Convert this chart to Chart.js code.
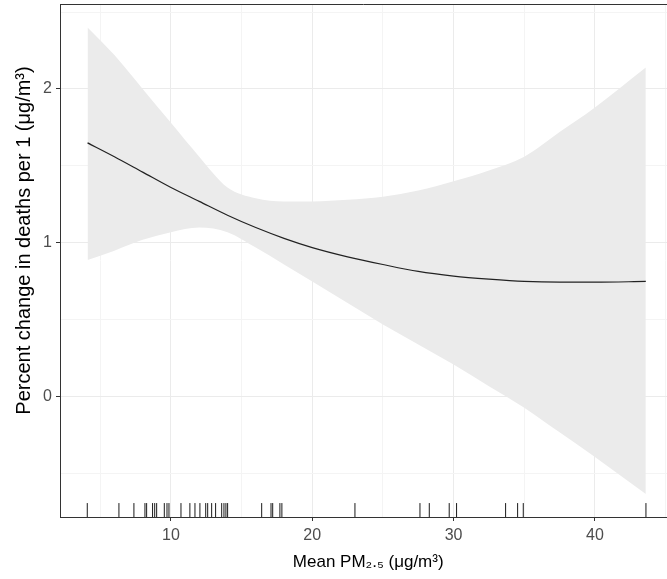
<!DOCTYPE html>
<html>
<head>
<meta charset="utf-8">
<script src="https://cdn.jsdelivr.net/npm/chart.js@4"></script>
<style>
  html, body { margin: 0; padding: 0; background: #fff; }
</style>
</head>
<body>
<canvas id="pmChart" width="667" height="579"></canvas>
<script>
// fitted curve + confidence band
const pmValues = [4.1, 6, 8, 10, 12, 14, 16, 18, 20, 22.5, 25, 27.5, 30, 32.5, 35, 37.5, 40, 43.6];
const fitValues = [1.65, 1.56, 1.46, 1.36, 1.27, 1.18, 1.10, 1.03, 0.97, 0.91, 0.86, 0.815, 0.785, 0.765, 0.75, 0.745, 0.745, 0.75];
const upperValues = [2.40, 2.22, 2.00, 1.78, 1.56, 1.36, 1.29, 1.27, 1.27, 1.28, 1.30, 1.34, 1.40, 1.47, 1.56, 1.72, 1.88, 2.14];
const lowerValues = [0.89, 0.95, 1.02, 1.07, 1.10, 1.07, 0.97, 0.86, 0.75, 0.61, 0.47, 0.34, 0.21, 0.07, -0.07, -0.23, -0.39, -0.63];
// rug: observed city means
const rugValues = [4.08, 6.32, 7.38, 8.16, 8.28, 8.70, 8.85, 8.99, 9.53, 9.72, 9.86, 10.71, 11.34, 11.70, 12.05,
    12.46, 12.60, 12.88, 13.16, 13.59, 13.75, 13.89, 14.01, 16.42, 17.08, 17.20, 17.71, 17.85, 23.02,
    27.62, 28.28, 29.69, 30.21, 33.68, 34.53, 34.93, 43.61];
const rugLevel = -0.735;
const yTickLabels = [0, 1, 2];
const xTickLabels = [10, 20, 30, 40];

let pmChartElement = document.getElementById('pmChart');

const pairs = (xs, ys) => xs.map((x, i) => ({x: x, y: ys[i]}));

const topBorder = {
    id: 'topBorder',
    afterDraw: (chart) => {
        const ctx = chart.ctx;
        const a = chart.chartArea;
        ctx.save();
        ctx.strokeStyle = '#333333';
        ctx.lineWidth = 1;
        ctx.beginPath();
        ctx.moveTo(a.left, a.top + 0.5);
        ctx.lineTo(a.right, a.top + 0.5);
        ctx.stroke();
        ctx.restore();
    }
};

const isMajor = (v, list) => list.includes(Math.round(v * 100) / 100);

const pmChart = new Chart(pmChartElement, {
    type: 'scatter',
    data: {
        datasets: [{
            label: 'fit',
            type: 'line',
            order: 0,
            data: pairs(pmValues, fitValues),
            borderColor: '#222222',
            borderWidth: 1.2,
            pointRadius: 0,
            cubicInterpolationMode: 'monotone',
            fill: false
        }, {
            label: 'rug',
            order: 1,
            data: rugValues.map(v => ({x: v, y: rugLevel})),
            pointStyle: 'line',
            rotation: 90,
            radius: 7,
            borderColor: '#1a1a1a',
            borderWidth: 1,
            backgroundColor: '#1a1a1a'
        }, {
            label: 'lower',
            type: 'line',
            order: 2,
            data: pairs(pmValues, lowerValues),
            borderWidth: 0,
            pointRadius: 0,
            cubicInterpolationMode: 'monotone',
            fill: false
        }, {
            label: 'upper',
            type: 'line',
            order: 3,
            data: pairs(pmValues, upperValues),
            borderWidth: 0,
            pointRadius: 0,
            cubicInterpolationMode: 'monotone',
            backgroundColor: 'rgb(235, 235, 235)',
            fill: '-1'
        }]
    },
    options: {
        responsive: false,
        animation: false,
        layout: { autoPadding: false, padding: { top: 4, right: 0, left: 0, bottom: 0 } },
        plugins: {
            legend: { display: false },
            tooltip: { enabled: false },
            filler: { drawTime: 'beforeDatasetsDraw' }
        },
        scales: {
            x: {
                type: 'linear',
                min: 2.15,
                max: 45.1,
                afterFit: (s) => {
                    s.height = 62;
                    s.paddingLeft = 0;
                    s.paddingRight = 0;
                },
                afterBuildTicks: (s) => {
                    s.ticks = [5, 10, 15, 20, 25, 30, 35, 40, 45].map(v => ({value: v}));
                },
                ticks: {
                    autoSkip: false,
                    maxRotation: 0,
                    padding: 5,
                    color: '#4d4d4d',
                    font: { family: 'Liberation Sans', size: 16 },
                    callback: (v) => isMajor(v, xTickLabels) ? String(v) : ''
                },
                grid: {
                    color: (c) => isMajor(c.tick.value, xTickLabels) ? '#ebebeb' : '#f4f4f4',
                    tickColor: (c) => isMajor(c.tick.value, xTickLabels) ? '#333333' : 'rgba(0,0,0,0)',
                    tickLength: 4
                },
                border: { color: '#333333', width: 1 },
                title: {
                    display: true,
                    text: '  Mean PM₂.₅ (μg/m³)',
                    color: '#000000',
                    font: { family: 'Liberation Sans', size: 17 },
                    padding: { top: 0, bottom: 6 }
                }
            },
            y: {
                type: 'linear',
                min: -0.78,
                max: 2.552,
                afterFit: (s) => {
                    s.width = 60;
                    s.paddingTop = 0;
                    s.paddingBottom = 0;
                },
                afterBuildTicks: (s) => {
                    s.ticks = [-0.5, 0, 0.5, 1, 1.5, 2, 2.5].map(v => ({value: v}));
                },
                ticks: {
                    autoSkip: false,
                    padding: 4,
                    color: '#4d4d4d',
                    font: { family: 'Liberation Sans', size: 16 },
                    callback: (v) => isMajor(v, yTickLabels) ? String(v) : ''
                },
                grid: {
                    color: (c) => isMajor(c.tick.value, yTickLabels) ? '#ebebeb' : '#f4f4f4',
                    tickColor: (c) => isMajor(c.tick.value, yTickLabels) ? '#333333' : 'rgba(0,0,0,0)',
                    tickLength: 4
                },
                border: { color: '#333333', width: 1 },
                title: {
                    display: true,
                    text: '\u2003\u2003Percent change in deaths per 1 (μg/m³)',
                    color: '#000000',
                    font: { family: 'Liberation Sans', size: 20 },
                    padding: { top: 12, bottom: 0 }
                }
            }
        }
    },
    plugins: [topBorder]
});
</script>
</body>
</html>
